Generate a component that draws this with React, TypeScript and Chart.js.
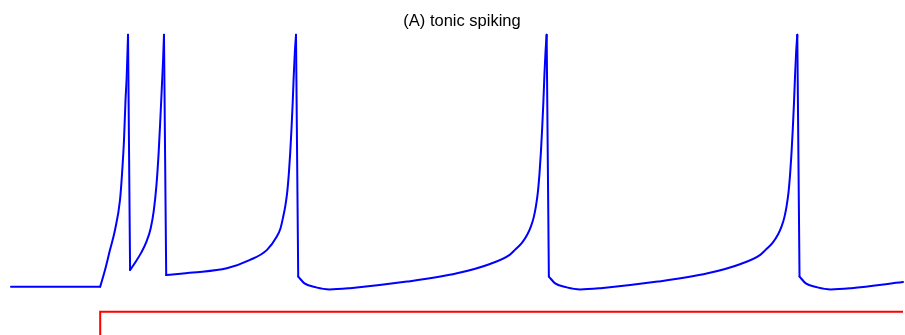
import React, { useEffect, useRef } from "react";
import { Chart, registerables } from "chart.js";

Chart.register(...registerables);

const titleText = "(A) tonic spiking";
const spikePeak = 30;

// membrane potential trace (time in ms, potential in mV)
const vTime = [
  0, 10, 10.54, 11.1, 11.66, 12.22, 12.44, 12.67, 12.84, 12.97, 13.12,
  13.35, 14.0, 14.6, 15.2, 15.65, 16.0, 16.3, 16.55, 16.75, 16.92, 17.05, 17.15,
  17.4, 20.4, 24.2, 26.8, 28.7, 29.8, 30.2, 30.5, 30.75, 30.95, 31.15, 31.3, 31.45, 31.58, 31.7, 31.82, 31.95,
  32.2, 32.9, 34.2, 35.7, 38.0, 44.4, 50.0, 53.7, 55.9, 56.5, 57.3, 57.9, 58.3, 58.6, 58.85, 59.05, 59.25, 59.4, 59.55, 59.68, 59.8, 59.92, 60.05,
  60.3, 61.0, 62.3, 63.8, 66.1, 72.5, 78.1, 81.8, 84.0, 84.6, 85.4, 86.0, 86.4, 86.7, 86.95, 87.15, 87.35, 87.5, 87.65, 87.78, 87.9, 88.02, 88.15,
  88.4, 89.1, 90.4, 91.9, 94.2, 100,
];
const vValue = [
  -70, -70, -63.4, -55.4, -47.5, -35.6, -25.6, -11.7, 4.2, 13.3, 30,
  -63.4, -60, -56.5, -52, -47, -40, -30, -17, -3, 10, 20, 30,
  -65.4, -64.4, -62.7, -59.4, -55.4, -50.1, -47, -42.5, -38, -33, -25, -17, -7, 3, 14, 23, 30,
  -66, -68.7, -70.3, -71.1, -70.6, -68, -64.7, -61, -57.4, -55.4, -52.5, -49.2, -46, -42.5, -38, -33, -25, -17, -7, 3, 14, 23, 30,
  -66, -68.7, -70.3, -71.1, -70.6, -68, -64.7, -61, -57.4, -55.4, -52.5, -49.2, -46, -42.5, -38, -33, -25, -17, -7, 3, 14, 23, 30,
  -66, -68.7, -70.3, -71.1, -70.6, -68.2,
];

// injected current step (drawn offset below the trace)
const iTime = [0, 10, 10, 100];
const iValue = [-90, -90, -80, -80];

const titlePlugin = {
  id: "centerTitle",
  afterDraw(chart: any) {
    const { ctx, chartArea } = chart;
    ctx.save();
    ctx.fillStyle = "#000000";
    ctx.font = "16.5px 'Liberation Sans', Arial, sans-serif";
    ctx.textAlign = "center";
    ctx.textBaseline = "alphabetic";
    ctx.fillText(titleText, (chartArea.left + chartArea.right) / 2 + 5, 25.5);
    ctx.restore();
  },
};

function buildTraceDatasets() {
  // split the trace at its corners: step onset, spike peaks and resets
  const corners = new Set<number>([0, 1, vTime.length - 1]);
  vValue.forEach((v, i) => {
    if (v >= spikePeak) {
      corners.add(i);
      if (i + 1 < vValue.length) corners.add(i + 1);
    }
  });
  const idx = Array.from(corners).sort((a, b) => a - b);
  const sets: any[] = [];
  for (let k = 0; k < idx.length - 1; k++) {
    const a = idx[k];
    const b = idx[k + 1];
    const pts = [];
    for (let i = a; i <= b; i++) pts.push({ x: vTime[i], y: vValue[i] });
    sets.push({
      data: pts,
      borderColor: "#0000ff",
      borderWidth: 2,
      pointRadius: 0,
      borderCapStyle: "round",
      borderJoinStyle: "round",
      cubicInterpolationMode: b - a > 1 ? "monotone" : "default",
      tension: 0,
      clip: false,
    });
  }
  return sets;
}

export default function App() {
  const ref = useRef<HTMLCanvasElement | null>(null);

  useEffect(() => {
    document.body.style.margin = "0";
    document.body.style.overflow = "hidden";
    const canvas = ref.current;
    if (!canvas) return;
    const chart = new Chart(canvas, {
      type: "line",
      data: {
        datasets: [
          ...buildTraceDatasets(),
          {
            data: iTime.map((t, i) => ({ x: t, y: iValue[i] })),
            borderColor: "#ff0000",
            borderWidth: 2,
            pointRadius: 0,
            tension: 0,
            clip: false,
          },
        ],
      },
      options: {
        responsive: false,
        animation: false,
        devicePixelRatio: 1,
        layout: { padding: { left: 11, right: 2, top: 34.8, bottom: 8 } },
        scales: {
          x: { type: "linear", min: 0, max: 100, display: false },
          y: { type: "linear", min: -90, max: 30, display: false },
        },
        plugins: {
          legend: { display: false },
          tooltip: { enabled: false },
          title: { display: false },
        },
      },
      plugins: [titlePlugin],
    });
    return () => chart.destroy();
  }, []);

  return (
    <div style={{ width: 905, height: 335, overflow: "hidden" }}>
      <canvas ref={ref} width={905} height={345} style={{ display: "block" }} />
    </div>
  );
}
